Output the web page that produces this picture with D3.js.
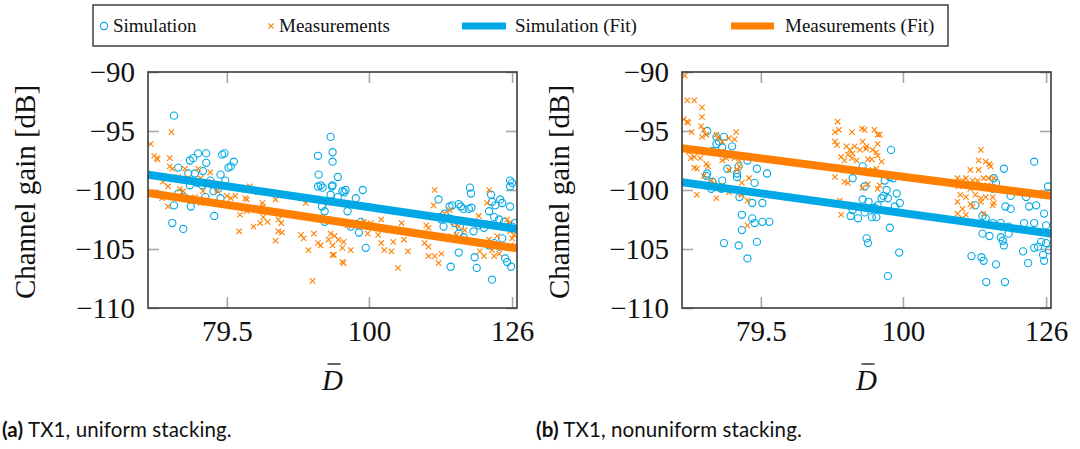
<!DOCTYPE html>
<meta charset="utf-8">
<style>
body { margin: 0; background: #fff; }
svg text { font-family: "Liberation Serif", "DejaVu Serif", serif; fill: #111; }
.frame { fill: none; stroke: #3a3a3a; stroke-width: 1.6px; }
.tick line { stroke: #a8a8a8; stroke-width: 1.6px; }
.domain { display: none; }
.caption { font-family: Lato, "Open Sans", sans-serif; font-size: 20.5px; letter-spacing: 0.1px; }
</style>
<svg width="1080" height="449"></svg>
<script src="https://d3js.org/d3.v7.min.js"></script>
<script>

// ---- data: [D, channel gain in dB] ----
var xTicks = [79.5, 100, 126];
var yTicks = [-110, -105, -100, -95, -90];
var xDomain = [70, 127];
var yDomain = [-110, -90];

var simA = [
  [73.0,-93.7],[73.5,-98.1],[75.9,-96.9],[76.9,-96.9],[74.9,-97.5],[75.3,-97.3],[76.9,-97.7],
  [78.9,-97.0],[79.2,-96.9],[80.4,-97.6],[79.7,-98.1],[80.0,-98.0],[78.7,-98.7],[74.7,-98.6],
  [75.5,-98.6],[76.5,-98.4],[77.4,-99.2],[79.3,-99.2],[74.9,-99.6],[76.4,-99.6],[78.4,-99.9],
  [73.5,-100.3],[74.2,-100.6],[76.8,-100.6],[78.7,-100.7],[73.0,-101.3],[75.0,-101.4],
  [77.9,-102.2],[72.8,-102.8],[74.1,-103.3],[75.8,-99.4],[77.8,-100.1],
  [94.0,-95.5],[94.3,-96.8],[94.3,-97.6],[92.1,-97.1],[92.2,-98.7],[92.1,-99.7],[92.5,-99.6],
  [92.8,-99.8],[94.2,-99.7],[94.0,-100.4],[92.7,-101.4],[93.1,-101.8],[93.1,-102.7],[95.1,-98.9],
  [94.3,-99.6],[95.8,-100.1],[96.1,-100.2],[96.3,-100.0],[95.1,-100.6],[97.9,-100.7],[99.0,-100.0],
  [96.6,-101.8],[97.1,-103.1],[97.9,-102.9],[98.7,-102.7],[98.4,-103.6],[99.5,-104.9],
  [111.9,-100.8],[112.1,-102.3],[112.4,-102.5],[112.8,-103.1],[113.9,-101.4],[114.4,-101.3],
  [115.6,-101.2],[116.0,-101.4],[116.5,-101.6],[117.5,-101.6],[118.0,-101.5],[113.0,-102.0],
  [113.9,-102.4],[114.8,-102.8],[115.8,-103.1],[117.7,-99.8],[117.9,-100.3],[115.6,-103.7],
  [116.5,-104.0],[118.4,-103.5],[115.6,-105.3],[114.1,-106.5],[118.6,-105.7],[119.0,-106.6],
  [121.8,-100.4],[122.0,-101.0],[122.6,-101.3],[123.6,-100.8],[124.0,-101.1],[121.4,-101.8],
  [122.4,-102.3],[123.4,-102.5],[124.4,-102.7],[125.6,-101.4],[122.0,-107.6],[124.6,-105.8],
  [125.0,-106.1],[125.8,-106.5],[125.6,-99.2],[126.0,-99.4],[125.6,-99.7],[126.6,-102.8],
  [126.0,-103.1],[122.4,-104.5],[123.4,-104.8],[124.0,-104.1],[121.4,-104.7],[119.4,-103.0],
  [120.4,-103.2]
];

var measA = [
  [70.3,-96.1],[70.7,-97.1],[71.0,-97.3],[71.1,-97.4],[72.7,-95.1],[72.5,-97.3],[72.5,-98.0],
  [72.8,-98.2],[71.7,-99.3],[72.3,-99.7],[70.3,-100.2],[71.6,-100.7],[72.3,-101.4],[73.5,-98.9],
  [74.3,-99.2],[74.7,-99.0],[73.7,-99.9],[74.1,-100.1],[74.3,-98.2],[75.9,-98.2],[76.2,-99.0],
  [77.4,-98.5],[77.0,-99.3],[76.5,-100.1],[75.5,-100.6],[76.2,-101.1],[78.3,-100.1],[79.5,-100.5],
  [80.0,-100.7],[80.6,-100.5],[81.9,-100.0],[82.5,-99.7],[81.9,-100.7],[82.1,-100.8],[83.6,-100.2],
  [85.7,-100.2],[86.0,-100.8],[84.2,-101.1],[84.3,-101.4],[81.2,-102.1],[82.1,-101.8],[83.0,-103.1],
  [83.9,-102.8],[84.3,-102.3],[84.9,-102.7],[86.4,-102.5],[86.8,-102.8],[86.4,-103.5],[86.9,-103.6],
  [81.1,-103.5],[86.0,-104.3],[89.6,-103.8],[90.0,-104.1],[90.3,-101.1],[90.7,-105.1],[91.5,-103.7],
  [92.1,-104.5],[92.5,-104.7],[93.7,-104.2],[94.0,-103.7],[91.3,-107.7],[94.3,-105.5],[93.7,-101.1],
  [92.2,-102.3],
  [94.6,-103.9],[95.2,-104.2],[96.0,-104.4],[94.3,-104.7],[95.8,-104.9],[97.1,-105.1],[95.8,-106.1],
  [96.0,-106.2],[94.5,-105.5],[96.6,-103.0],[97.4,-103.0],[99.2,-102.7],[100.3,-102.8],[102.0,-102.5],
  [99.8,-103.7],[101.5,-103.8],[102.0,-104.5],[102.5,-105.1],[103.7,-105.2],[104.0,-104.4],
  [105.4,-102.8],[105.8,-104.2],[104.1,-101.8],[104.8,-106.6],[106.5,-105.2],[109.4,-104.5],
  [110.1,-104.8],[109.7,-103.0],[110.1,-103.2],[110.1,-105.6],[111.2,-105.6],[111.9,-106.2],
  [111.0,-101.3],[111.2,-100.0],[112.4,-105.4],[113.0,-102.0],[113.9,-101.7],[114.8,-102.8],
  [113.4,-103.9],[113.9,-104.2],[115.2,-103.8],[115.6,-103.1],[116.7,-103.4],[116.7,-104.2],
  [119.4,-102.2],[119.4,-102.8],[119.6,-105.2],[120.4,-105.6],[121.4,-100.0],[121.0,-101.1],
  [121.4,-104.2],[122.0,-105.1],[123.0,-103.9],[123.6,-104.8],[124.6,-103.1],[125.6,-103.5],
  [126.0,-104.1],[125.0,-102.5],[125.4,-102.8],[123.4,-105.4],[122.4,-105.6],[126.4,-103.8],
  [126.6,-104.7]
];

var fitSimA = [[70, -98.7], [127, -103.3]];
var fitMeasA = [[70, -100.25], [127, -104.95]];

var simB = [
  [72.9,-95.0],[74.0,-95.5],[74.3,-95.9],[74.9,-95.5],[74.0,-96.1],[74.7,-96.4],[73.5,-96.7],
  [74.9,-96.9],[75.9,-96.3],[75.3,-98.2],[76.7,-98.0],[76.5,-98.6],[76.5,-98.9],[77.8,-97.5],
  [79.0,-98.2],[80.3,-98.6],[72.9,-98.6],[72.8,-98.8],[73.5,-99.3],[73.4,-99.9],[74.7,-99.2],
  [74.6,-99.9],[76.8,-100.6],[78.7,-99.4],[78.4,-101.1],[79.7,-101.1],[77.1,-102.1],[78.4,-102.4],
  [78.7,-102.8],[79.7,-102.7],[80.6,-102.7],[77.1,-103.4],[74.9,-104.5],[76.7,-104.7],[79.0,-104.4],
  [77.8,-105.8],
  [93.7,-98.0],[92.2,-99.0],[94.0,-99.7],[93.7,-100.8],[92.2,-101.7],[91.9,-102.2],[93.0,-102.4],
  [94.0,-101.9],[94.3,-104.1],[94.5,-104.5],[98.1,-96.6],[97.9,-98.9],[98.4,-99.0],[97.1,-99.2],
  [97.4,-100.0],[96.6,-100.7],[96.9,-100.5],[97.6,-100.7],[99.0,-100.3],[99.5,-101.1],[98.7,-101.4],
  [96.0,-101.3],[95.5,-101.5],[95.1,-102.3],[95.8,-102.3],[94.6,-101.0],[97.9,-103.2],[99.4,-105.3],
  [97.6,-107.3],
  [117.7,-98.2],[123.6,-97.6],[126.4,-99.7],[115.8,-99.0],[116.2,-99.4],[115.6,-99.9],[119.0,-100.5],
  [119.0,-101.6],[122.0,-100.6],[122.6,-101.4],[124.0,-101.3],[125.6,-102.0],[118.0,-101.4],
  [112.4,-101.3],[113.7,-102.2],[114.3,-102.4],[115.6,-102.8],[117.1,-102.8],[118.6,-103.1],
  [121.6,-102.8],[123.6,-102.8],[126.0,-103.0],[113.7,-103.7],[115.0,-103.9],[117.1,-104.0],
  [117.7,-104.7],[117.5,-104.3],[121.4,-105.2],[123.6,-104.9],[124.4,-104.8],[125.4,-105.5],
  [126.6,-105.1],[126.0,-104.5],[122.4,-106.2],[125.6,-106.0],[111.7,-105.6],[113.5,-105.7],
  [113.9,-106.0],[116.2,-106.3],[114.4,-107.8],[117.9,-107.8],[125.0,-104.4],[118.6,-103.7]
];

var measB = [
  [70.3,-90.3],[70.6,-92.4],[71.4,-92.4],[72.3,-93.0],[72.3,-93.8],[70.2,-94.0],[70.6,-94.2],
  [70.7,-94.3],[71.1,-95.1],[72.2,-94.6],[72.5,-94.9],[72.3,-95.5],[72.8,-95.3],[70.5,-96.5],
  [70.8,-96.8],[71.0,-97.3],[71.4,-97.2],[72.1,-97.3],[71.4,-98.1],[71.7,-98.2],[72.8,-97.8],
  [73.0,-98.0],[72.5,-98.8],[71.7,-100.4],[73.4,-99.2],[73.7,-99.5],[74.3,-99.6],[74.7,-99.9],
  [74.0,-100.7],[74.0,-95.3],[74.2,-95.6],[74.7,-95.9],[75.5,-95.6],[76.2,-95.7],[76.4,-95.1],
  [74.7,-97.5],[75.2,-97.3],[76.2,-97.3],[76.8,-97.5],[75.5,-98.3],[76.5,-98.3],[76.8,-98.0],
  [74.6,-99.9],[75.5,-100.2],[75.9,-100.0],[77.0,-100.3],[77.1,-99.4],[78.0,-99.0],[77.1,-100.4],
  [77.8,-100.9],[77.8,-103.0],
  [90.0,-94.2],[89.6,-95.1],[90.2,-94.9],[89.6,-95.9],[89.9,-96.2],[92.1,-95.1],[93.6,-94.8],
  [94.0,-94.9],[93.7,-95.9],[94.3,-96.3],[91.3,-96.3],[91.8,-96.6],[92.2,-96.9],[91.5,-97.0],
  [90.5,-97.2],[91.0,-97.5],[92.1,-97.3],[92.8,-97.5],[92.5,-96.3],[93.3,-96.6],[90.3,-98.1],
  [91.3,-98.3],[92.2,-98.4],[93.6,-98.3],[89.6,-98.9],[91.0,-99.3],[91.5,-99.4],[90.3,-100.9],
  [90.5,-102.1],[93.7,-99.8],[94.5,-99.5],[94.2,-96.5],[94.5,-97.4],[95.5,-94.9],[96.0,-95.3],
  [96.3,-95.3],[95.2,-96.6],[95.8,-96.8],[96.0,-96.1],[95.1,-97.4],[96.0,-97.1],[96.6,-97.6],
  [95.8,-98.2],[95.2,-98.3],[96.0,-99.9],[96.3,-99.6],[94.6,-98.6],
  [113.4,-96.6],[113.0,-97.5],[114.3,-97.6],[115.0,-97.8],[115.2,-98.0],[111.5,-98.3],[113.0,-98.3],
  [109.2,-99.0],[110.1,-99.2],[110.7,-99.0],[111.9,-99.2],[112.8,-99.2],[113.9,-99.0],[114.8,-99.0],
  [115.8,-99.0],[109.4,-99.7],[110.7,-99.6],[111.5,-99.9],[112.4,-99.6],[113.7,-99.7],[114.6,-99.6],
  [115.6,-99.7],[116.5,-99.9],[109.7,-100.4],[110.7,-100.6],[112.4,-100.4],[113.4,-100.7],
  [114.3,-100.6],[115.6,-100.6],[109.2,-101.0],[111.5,-101.2],[113.4,-101.0],[115.8,-101.1],
  [110.1,-101.6],[111.9,-101.4],[113.9,-102.0],[115.6,-101.3],[109.2,-102.0],[110.1,-102.4],
  [110.7,-102.1]
];

var fitSimB = [[70, -99.35], [127, -103.7]];
var fitMeasB = [[70, -96.45], [127, -100.5]];

var legendItems = ["Simulation", "Measurements", "Simulation (Fit)", "Measurements (Fit)"];
var captions = [["(a)", " TX1, uniform stacking."], ["(b)", " TX1, nonuniform stacking."]];

// ---- drawing ----
var blue = "#00a9e6", orange = "#ff8000";
var svg = d3.select("svg");
var plotW = 369, plotH = 236, plotTop = 72;
var crossPath = "M-2.7,-2.7L2.7,2.7M-2.7,2.7L2.7,-2.7";

function drawPanel(x0, sim, meas, fitSim, fitMeas, id) {
  var x = d3.scaleLog().domain(xDomain).range([x0, x0 + plotW]);
  var y = d3.scaleLinear().domain(yDomain).range([plotTop + plotH, plotTop]);

  var g = svg.append("g");

  g.append("clipPath").attr("id", "clip" + id)
    .append("rect").attr("x", x0).attr("y", plotTop).attr("width", plotW).attr("height", plotH);

  // inner ticks on all four sides
  var axB = g.append("g").attr("transform", "translate(0," + (plotTop + plotH) + ")")
    .call(d3.axisBottom(x).tickValues(xTicks).tickSize(-11).tickPadding(12)
      .tickFormat(function(d) { return d; }));
  axB.selectAll("text").style("font-size", "29px");
  g.append("g").attr("transform", "translate(0," + plotTop + ")")
    .call(d3.axisTop(x).tickValues(xTicks).tickSize(-11).tickFormat(""));
  var axL = g.append("g").attr("transform", "translate(" + x0 + ",0)")
    .call(d3.axisLeft(y).tickValues(yTicks).tickSize(-11).tickPadding(13));
  axL.selectAll("text").style("font-size", "29px").attr("dy", "0.34em");
  g.append("g").attr("transform", "translate(" + (x0 + plotW) + ",0)")
    .call(d3.axisRight(y).tickValues(yTicks).tickSize(-11).tickFormat(""));
  g.selectAll(".tick text").attr("fill", "#111").style("font-family", "'Liberation Serif', serif");

  var plot = g.append("g").attr("clip-path", "url(#clip" + id + ")");

  plot.selectAll("circle.sim").data(sim).enter().append("circle")
    .attr("class", "sim")
    .attr("cx", function(d) { return x(d[0]); })
    .attr("cy", function(d) { return y(d[1]); })
    .attr("r", 3.6)
    .attr("fill", "none").attr("stroke", blue).attr("stroke-width", 1.1);

  plot.selectAll("path.meas").data(meas).enter().append("path")
    .attr("class", "meas")
    .attr("d", crossPath)
    .attr("transform", function(d) { return "translate(" + x(d[0]) + "," + y(d[1]) + ")"; })
    .attr("stroke", orange).attr("stroke-width", 1.1);

  var line = d3.line().x(function(d) { return x(d[0]); }).y(function(d) { return y(d[1]); });
  plot.append("path").datum(fitSim).attr("d", line)
    .attr("stroke", blue).attr("stroke-width", 8).attr("fill", "none");
  plot.append("path").datum(fitMeas).attr("d", line)
    .attr("stroke", orange).attr("stroke-width", 8).attr("fill", "none");

  g.append("rect").attr("class", "frame")
    .attr("x", x0).attr("y", plotTop).attr("width", plotW).attr("height", plotH);

  // axis labels
  var cx = x0 + plotW / 2;
  g.append("text").attr("x", cx).attr("y", 390).attr("text-anchor", "middle")
    .style("font-size", "29px").style("font-style", "italic").text("D");
  g.append("line").attr("x1", cx - 5).attr("x2", cx + 8).attr("y1", 364).attr("y2", 364)
    .attr("stroke", "#111").attr("stroke-width", 1.3);
  g.append("text")
    .attr("transform", "translate(" + (x0 - 113) + "," + (plotTop + plotH / 2 + 2) + ") rotate(-90)")
    .attr("text-anchor", "middle").style("font-size", "29px")
    .text("Channel gain [dB]");
}

drawPanel(148, simA, measA, fitSimA, fitMeasA, "a");
drawPanel(682, simB, measB, fitSimB, fitMeasB, "b");

// legend
var lg = svg.append("g");
lg.append("rect").attr("x", 93).attr("y", 5).attr("width", 855).attr("height", 41)
  .attr("fill", "#fff").attr("stroke", "#333").attr("stroke-width", 1.4);
var ly = 26;
lg.append("circle").attr("cx", 104).attr("cy", ly).attr("r", 3.6)
  .attr("fill", "none").attr("stroke", blue).attr("stroke-width", 1.1);
lg.append("path").attr("d", crossPath)
  .attr("transform", "translate(271," + ly + ")").attr("stroke", orange).attr("stroke-width", 1.1);
lg.append("line").attr("x1", 462).attr("x2", 506).attr("y1", ly).attr("y2", ly)
  .attr("stroke", blue).attr("stroke-width", 7);
lg.append("line").attr("x1", 731).attr("x2", 774).attr("y1", ly).attr("y2", ly)
  .attr("stroke", orange).attr("stroke-width", 7);
var textX = [113, 279, 515, 785];
lg.selectAll("text.leg").data(legendItems).enter().append("text")
  .attr("class", "leg")
  .attr("x", function(d, i) { return textX[i]; })
  .attr("y", 32)
  .style("font-size", "19px")
  .text(function(d) { return d; });

// captions
var capX = [2, 536];
captions.forEach(function(c, i) {
  var t = svg.append("text").attr("class", "caption").attr("x", capX[i]).attr("y", 437);
  t.append("tspan").style("font-weight", "bold").text(c[0]);
  t.append("tspan").text(c[1]);
});

</script>
